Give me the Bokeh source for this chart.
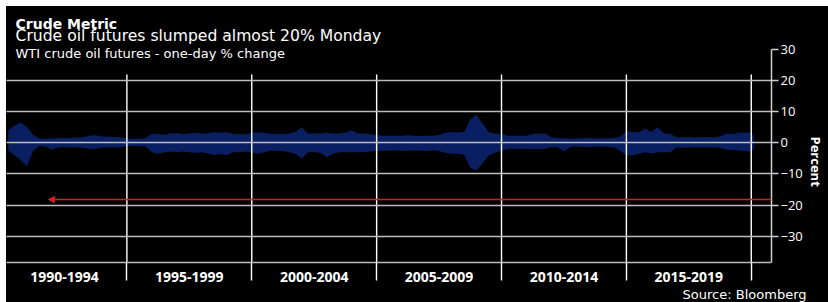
from bokeh.plotting import figure
from bokeh.models import Range1d, FixedTicker, Label, Arrow, NormalHead, ColumnDataSource, Title
from bokeh.embed import file_html
from bokeh.resources import INLINE

# ---- data (quarterly envelope of one-day % changes) ----
periods = ["1990-1994", "1995-1999", "2000-2004", "2005-2009", "2010-2014", "2015-2019"]
period_centers = [1992.5, 1997.5, 2002.5, 2007.5, 2012.5, 2017.5]
period_bounds = [1995, 2000, 2005, 2010, 2015, 2020]
y_ticks = [-30, -20, -10, 0, 10, 20, 30]

dates = [1990.25 + 0.25 * i for i in range(120)] + [2020.1]
daily_max = [4.0, 5.5, 6.6, 5.0, 2.5, 1.3, 1.3, 1.4, 1.6, 1.5, 1.6, 1.7, 1.8, 2.3, 2.4, 2.0, 2.0, 1.9, 1.8, 1.4,
             1.3, 1.3, 1.5, 2.9, 2.8, 2.6, 3.0, 3.1, 2.8, 3.0, 3.2, 2.9, 3.0, 3.4, 3.3, 3.4, 2.9, 2.9, 2.7, 3.2,
             3.4, 3.2, 2.9, 2.9, 2.8, 3.0, 3.5, 5.0, 3.0, 3.0, 3.0, 3.2, 3.0, 3.0, 3.3, 4.0, 3.0, 3.0, 2.8, 2.5,
             2.3, 2.3, 2.3, 2.3, 2.4, 2.3, 2.2, 2.3, 2.3, 2.5, 3.2, 3.4, 3.3, 3.5, 7.5, 9.0, 6.0, 3.4, 3.0, 2.9,
             2.3, 2.3, 2.3, 2.3, 2.9, 2.9, 3.0, 1.8, 1.5, 1.5, 1.4, 1.4, 1.5, 1.6, 1.4, 1.5, 1.4, 1.6, 1.9, 3.8,
             3.5, 3.3, 4.6, 3.5, 5.0, 3.0, 2.9, 1.8, 1.8, 1.9, 1.7, 1.8, 1.9, 1.8, 2.0, 3.0, 2.8, 3.2, 3.3, 3.2,
             2.0]
daily_min = [-2.5, -4.0, -5.5, -7.5, -2.5, -1.0, -1.2, -2.2, -1.4, -1.3, -1.5, -1.4, -1.6, -1.9, -2.0, -1.6, -1.4, -1.5, -1.5, -1.0,
             -1.0, -1.0, -1.2, -3.0, -3.5, -3.0, -2.8, -3.0, -2.8, -3.0, -3.3, -3.0, -3.4, -4.0, -3.5, -4.0, -3.0, -3.0, -2.8, -3.0,
             -3.5, -3.0, -2.5, -2.5, -2.6, -3.0, -3.5, -5.0, -3.0, -3.0, -3.2, -4.6, -3.5, -3.0, -3.0, -3.0, -3.0, -3.0, -2.8, -2.6,
             -2.5, -2.5, -2.4, -2.5, -2.5, -2.4, -2.5, -2.6, -2.4, -2.6, -3.2, -3.5, -3.5, -3.8, -8.0, -8.9, -6.5, -4.0, -3.2, -2.5,
             -2.0, -1.9, -1.9, -2.0, -2.0, -2.0, -1.9, -1.4, -1.3, -2.8, -1.3, -1.2, -1.3, -1.3, -1.2, -1.2, -1.3, -1.4, -2.5, -4.0,
             -4.0, -3.5, -3.0, -3.4, -3.0, -3.0, -3.0, -1.5, -1.6, -1.5, -1.4, -1.5, -1.5, -1.5, -1.6, -2.2, -2.3, -2.4, -2.6, -2.8,
             -2.0]
drop_level = -18.2
arrow_target = 1991.86

X0, X1 = 1990.18, 2020.81
Y0, Y1 = -38.4, 43.75
Y_AXIS_TOP = 30
SEP_TOP = 21.9

p = figure(width=822, height=296, output_backend="svg", toolbar_location=None,
           x_range=Range1d(X0, X1), y_range=Range1d(Y0, Y1), y_axis_location="right",
           min_border_left=0, min_border_top=0, min_border_right=55, min_border_bottom=40)
p.margin = (6, 0, 0, 6)
p.styles = {"background-color": "black"}
p.background_fill_color = "black"
p.border_fill_color = "black"
p.outline_line_color = None

src = ColumnDataSource(dict(x=dates, hi=daily_max, lo=daily_min))
p.varea(x="x", y1="lo", y2="hi", source=src, fill_color="#0a1f62", fill_alpha=1.0)

# separators between periods
p.segment(x0=period_bounds, y0=SEP_TOP, x1=period_bounds, y1=Y0, line_color="white", line_width=1.4)

p.xgrid.visible = False
p.ygrid.ticker = FixedTicker(ticks=[t for t in y_ticks if t != 30])
p.ygrid.grid_line_color = "#bdbdbd"
p.ygrid.grid_line_width = 1.5
p.ygrid.level = "overlay"

red = "#d71f1f"
p.add_layout(Arrow(end=NormalHead(size=6, line_color=red, fill_color=red), line_color=red, line_width=1.5,
                   x_start=X1, y_start=drop_level, x_end=arrow_target, y_end=drop_level))

ya = p.yaxis[0]
ya.ticker = FixedTicker(ticks=y_ticks)
ya.bounds = (Y0, Y_AXIS_TOP)
ya.axis_line_color = "#d0d0d0"
ya.axis_line_width = 1.5
ya.major_tick_line_color = "#d0d0d0"
ya.major_tick_line_width = 1.5
ya.major_tick_out = 7
ya.major_tick_in = 0
ya.minor_tick_line_color = None
ya.major_label_text_color = "white"
ya.major_label_text_font = "Open Sans"
ya.major_label_text_font_size = "13px"
ya.major_label_standoff = 2

p.add_layout(Title(text="Percent", align="left", offset=130, standoff=3, text_color="white",
                   border_line_color=None, background_fill_color=None,
                   text_font="Open Sans", text_font_style="bold", text_font_size="13px"), "right")

xa = p.xaxis[0]
xa.ticker = FixedTicker(ticks=period_centers, minor_ticks=period_bounds)
xa.major_label_overrides = {c: s for c, s in zip(period_centers, periods)}
xa.axis_line_color = "#bdbdbd"
xa.axis_line_width = 1.5
xa.major_tick_line_color = None
xa.minor_tick_line_color = "white"
xa.minor_tick_line_width = 1.4
xa.minor_tick_out = 18
xa.minor_tick_in = 0
xa.major_label_text_color = "white"
xa.major_label_text_font = "Open Sans"
xa.major_label_text_font_style = "bold"
xa.major_label_text_font_size = "14px"
xa.major_label_standoff = -9

p.add_layout(Title(text="Source: Bloomberg", align="right", offset=-35, standoff=1, text_color="white",
                   border_line_color=None, background_fill_color=None,
                   text_font="DejaVu Sans", text_font_style="normal", text_font_size="13px"), "below")


def lab(text, x, y, size, style="normal"):
    p.add_layout(Label(x=x, y=y, x_units="screen", y_units="screen", text=text, text_color="white",
                       text_font="DejaVu Sans", text_font_size=size, text_font_style=style,
                       text_align="left", text_baseline="alphabetic"))


lab("Crude Metric", 9, 238.5, "14px", "bold")
lab("Crude oil futures slumped almost 20% Monday", 9, 226.5, "15.6px")
lab("WTI crude oil futures - one-day % change", 9, 209.5, "13px")

open("out.html", "w").write(file_html(p, INLINE))
